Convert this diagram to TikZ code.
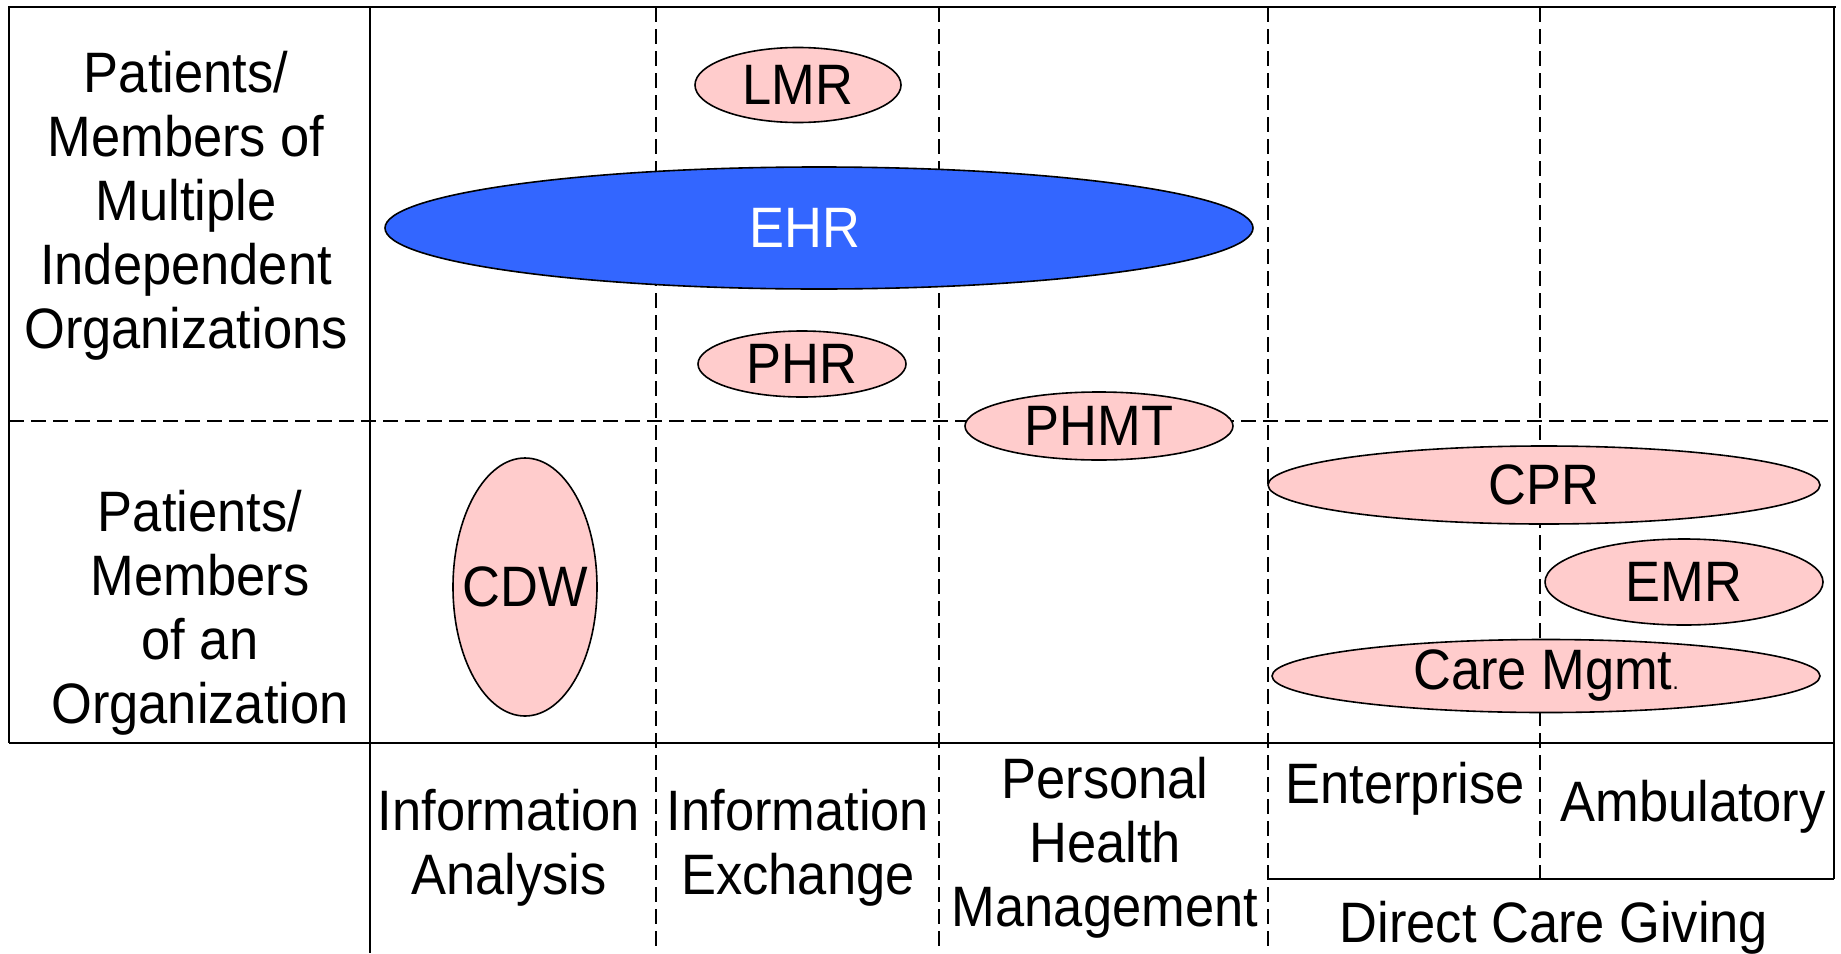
\documentclass[tikz,border=0pt]{standalone}
\usepackage{fontspec}
\setmainfont{Liberation Sans}[FakeStretch=0.92]
\usetikzlibrary{shapes.geometric}
\definecolor{boxpink}{HTML}{FFCCCC}
\definecolor{ehrblue}{HTML}{3366FF}
\newcommand\dfont{\fontsize{28.5}{32}\selectfont}
\newcommand\fit[1]{\makebox[0pt]{#1}}
\begin{document}
\begin{tikzpicture}[x=0.5pt,y=-0.5pt,
  solidline/.style={line width=1.3pt},
  dashline/.style={line width=1pt, dash pattern=on 7.5pt off 3.5pt},
  blob/.style={ellipse, draw, line width=0.8pt, fill=boxpink, inner sep=0pt, font=\dfont},
  lab/.style={align=center, font=\dfont, inner sep=0pt}]
\useasboundingbox (0,0) rectangle (1841,953);
% grid
\draw[dashline] (656,7) -- (656,953);
\draw[dashline] (939,7) -- (939,953);
\draw[dashline] (1268,7) -- (1268,953);
\draw[dashline] (1540,7) -- (1540,879);
\draw[dashline] (9,421) -- (1834,421);
\draw[solidline] (8,7) -- (1836,7);
\draw[solidline] (9,7) -- (9,743);
\draw[solidline] (370,7) -- (370,953);
\draw[solidline] (9,743) -- (1834,743);
\draw[solidline] (1834,7) -- (1834,879);
\draw[solidline] (1268,879) -- (1834,879);
% ellipses
\node[blob, minimum width=103pt, minimum height=37.5pt] (lmr) at (798,85) {\fit{LMR}};
\node[blob, fill=ehrblue, text=white, minimum width=434pt, minimum height=61pt] (ehr) at (819,228) {\fit{\hspace*{-14pt}EHR}};
\node[blob, minimum width=104pt, minimum height=33pt] (phr) at (802,364) {\fit{PHR}};
\node[blob, minimum width=134pt, minimum height=34pt] (phmt) at (1099,426) {\fit{PHMT}};
\node[blob, minimum width=276pt, minimum height=39pt] (cpr) at (1544,485) {\fit{CPR}};
\node[blob, minimum width=139pt, minimum height=43pt] (emr) at (1684,582) {\fit{EMR}};
\node[blob, minimum width=274pt, minimum height=36pt] (care) at (1546,676) {\fit{Care Mgmt{\fontsize{12}{12}\selectfont .}}};
\node[blob, minimum width=72pt, minimum height=129pt] (cdw) at (525,587) {\fit{CDW}};
% labels
\node[lab] (multi) at (186,206) {Patients/\\Members of\\Multiple\\Independent\\Organizations};
\node[lab] (single) at (200,613) {Patients/\\Members\\of an\\Organization};
\node[lab] (ia) at (509,848) {Information\\Analysis};
\node[lab] (ie) at (798,848) {Information\\Exchange};
\node[lab] (phm) at (1105,848) {Personal\\Health\\Management};
\node[lab] (ent) at (1405,789) {Enterprise};
\node[lab] (amb) at (1693,807) {Ambulatory};
\node[lab] (dcg) at (1554,928) {Direct Care Giving};
\end{tikzpicture}
\end{document}
